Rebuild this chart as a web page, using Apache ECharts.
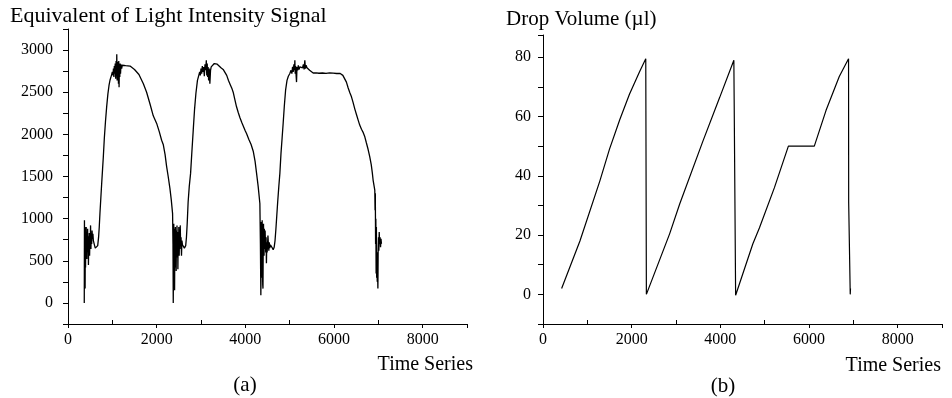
<!DOCTYPE html>
<html>
<head>
<meta charset="utf-8">
<script src="https://cdn.jsdelivr.net/npm/echarts@6/dist/echarts.min.js"></script>
<style>
  html, body { margin: 0; padding: 0; background: #fff; }
  #chart { width: 952px; height: 398px; }
</style>
</head>
<body>
<div id="chart"></div>
<script>
// (a) light intensity signal
var signalX = [367, 371, 376, 381, 386, 391, 396, 401, 406, 411, 416, 421, 426, 431, 437, 443, 449, 455, 461, 467,
  473, 480, 487, 494, 501, 509, 517, 525, 534, 543, 552, 562, 572, 585, 600, 615, 630, 647, 670, 690,
  705, 721, 740, 760, 780, 797, 820, 845, 872, 900, 925, 947, 980, 1000, 1015, 1025, 1035, 1045, 1055, 1065,
  1075, 1085, 1095, 1100, 1108, 1115, 1122, 1130, 1138, 1145, 1152, 1160, 1168, 1176, 1185, 1195, 1210, 1225, 1245, 1270,
  1300, 1340, 1400, 1500, 1600, 1700, 1773, 1850, 1923, 2000, 2060, 2112, 2148, 2190, 2224, 2260, 2299, 2330, 2359,
  2368, 2374, 2380, 2386, 2392, 2398, 2404, 2410, 2416, 2422, 2428, 2434, 2440, 2446, 2452, 2458, 2465, 2472, 2479, 2486,
  2493, 2500, 2508, 2516, 2524, 2532, 2540, 2550, 2560, 2570, 2582, 2596, 2610, 2625, 2637, 2655, 2672, 2689, 2710, 2735,
  2765, 2795, 2825, 2855, 2885, 2920, 2950, 2970, 2985, 3000, 3015, 3030, 3045, 3060, 3075, 3090, 3105, 3120, 3130, 3140,
  3150, 3160, 3172, 3185, 3200, 3215, 3230, 3250, 3270, 3300, 3330, 3366, 3400, 3450, 3500, 3539, 3580, 3620, 3660, 3700,
  3726, 3760, 3800, 3840, 3877, 3920, 3960, 4000, 4027, 4080, 4130, 4178, 4220, 4253, 4290, 4328, 4340,
  4350, 4356, 4362, 4368, 4374, 4380, 4386, 4392, 4398, 4404, 4410, 4416, 4422, 4428, 4434, 4440, 4446, 4452, 4460, 4468,
  4476, 4484, 4492, 4500, 4510, 4520, 4530, 4540, 4552, 4565, 4580, 4600, 4628, 4650, 4670, 4690, 4703, 4730, 4755, 4779,
  4805, 4830, 4853, 4880, 4908, 4940, 4970, 5004, 5030, 5050, 5065, 5080, 5095, 5110, 5117, 5125, 5135, 5145, 5155, 5165,
  5180, 5195, 5210, 5230, 5250, 5270, 5290, 5310, 5325, 5342, 5355, 5370, 5390, 5417, 5450, 5490, 5530, 5567, 5600, 5630,
  5660, 5700, 5740, 5780, 5820, 5860, 5900, 5940, 5980, 6020, 6060, 6100, 6140, 6169, 6200, 6243, 6280, 6320, 6360, 6394,
  6430, 6470, 6510, 6545, 6580, 6620, 6660, 6695, 6730, 6770, 6807, 6840, 6865, 6882, 6900, 6920, 6926, 6932, 6938, 6944,
  6950, 6956, 6962, 6968, 6975, 6982, 6990, 6996, 7004, 7012, 7020, 7030, 7040, 7050, 7060, 7070];
var signalY = [0, 980, 260, 900, 170, 860, 420, 800, 560, 900, 640, 820, 520, 760, 660, 880, 600, 790, 450, 720,
  640, 830, 560, 760, 690, 920, 640, 800, 700, 860, 760, 820, 740, 720, 680, 650, 640, 630, 680, 780,
  900, 1066, 1240, 1420, 1590, 1734, 1960, 2150, 2326, 2480, 2580, 2642, 2700, 2740, 2700, 2780, 2680, 2810, 2720, 2840,
  2660, 2870, 2720, 2950, 2640, 2860, 2700, 2830, 2600, 2870, 2560, 2810, 2680, 2840, 2720, 2830, 2780, 2820, 2800, 2820,
  2815, 2815, 2810, 2770, 2710, 2600, 2500, 2360, 2220, 2130, 2030, 1930, 1880, 1760, 1620, 1500, 1360, 1220, 1060,
  700, 0, 520, 940, 300, 880, 150, 760, 420, 900, 560, 860, 380, 800, 620, 920, 540, 760, 400, 840,
  600, 900, 560, 820, 640, 920, 700, 780, 560, 740, 690, 700, 670, 650, 640, 680, 780, 944, 1200, 1380,
  1537, 1800, 2050, 2300, 2485, 2640, 2700, 2740, 2700, 2780, 2720, 2810, 2740, 2800, 2690, 2830, 2760, 2880, 2700, 2840,
  2680, 2800, 2640, 2780, 2600, 2760, 2800, 2780, 2820, 2840, 2830, 2832, 2810, 2790, 2770, 2750, 2700, 2640, 2590, 2540,
  2500, 2420, 2330, 2260, 2200, 2140, 2090, 2040, 2010, 1940, 1880, 1800, 1680, 1540, 1380, 1180, 700,
  90, 480, 960, 300, 900, 980, 500, 220, 170, 700, 940, 620, 560, 880, 700, 640, 860, 740, 600, 780,
  470, 720, 600, 680, 800, 700, 620, 720, 650, 690, 700, 660, 630, 660, 740, 880, 983, 1200, 1380, 1537,
  1780, 1960, 2129, 2340, 2524, 2640, 2690, 2722, 2760, 2720, 2800, 2740, 2830, 2760, 2880, 2720, 2810, 2700, 2620, 2800,
  2760, 2820, 2770, 2800, 2780, 2820, 2790, 2830, 2770, 2880, 2780, 2820, 2790, 2781, 2760, 2740, 2728, 2722, 2730, 2715,
  2725, 2720, 2728, 2716, 2724, 2720, 2730, 2718, 2726, 2720, 2722, 2720, 2722, 2720, 2700, 2682, 2620, 2550, 2490, 2445,
  2380, 2300, 2230, 2169, 2110, 2060, 2020, 1971, 1900, 1820, 1734, 1640, 1540, 1458, 1400, 1339, 1100, 1300, 700, 1000,
  350, 900, 300, 600, 250, 400, 170, 600, 780, 620, 840, 700, 780, 660, 760, 700];

// (b) drop volume
var volumeX = [420, 833, 1283, 1500, 1733, 1950, 2183, 2318, 2332, 2347, 2858, 3083, 3607, 3982, 4305, 4312, 4335, 4345,
  4732, 4883, 5220, 5535, 6120, 6383, 6683, 6892, 6895, 6926, 6930, 6936];
var volumeY = [2, 18, 38.3, 49, 59, 67.5, 75.3, 79.5, 0, -0.5, 20.5, 30.5, 51.7, 66.3, 79, 65.7, 65.7, -0.3,
  17, 22.5, 36, 50, 50, 62, 73.5, 79.5, 31, 30.5, 0, 2];

var titles = ['Equivalent of Light Intensity Signal', 'Drop Volume (\u00b5l)'];
var xName = 'Time Series';
var panelTags = ['(a)', '(b)'];
var minorX = [1000, 3000, 5000, 7000];

function pairs(xs, ys) {
  return xs.map(function (x, i) { return [x, ys[i]]; });
}

var FONT = 'Liberation Serif';
var black = '#000';
var lbl = { color: black, fontFamily: FONT, fontSize: 16 };

function mainX(gi) {
  return {
    type: 'value', gridIndex: gi, min: 0, max: 9000, interval: 2000,
    axisLine: { onZero: false, lineStyle: { color: black, width: 1 } },
    axisTick: { length: 4, lineStyle: { color: black } },
    splitLine: { show: false },
    axisLabel: Object.assign({ margin: 8, formatter: function (v) { return v % 2000 === 0 ? v : ''; } }, lbl)
  };
}
function minorAxisX(gi) {
  return {
    type: 'value', gridIndex: gi, min: 0, max: 9000, position: 'bottom',
    axisLine: { show: false, onZero: false },
    axisTick: { inside: true, length: 4, customValues: minorX, lineStyle: { color: black } },
    axisLabel: { show: false },
    splitLine: { show: false }
  };
}
function yAxisOf(gi, min, max, step, labelStep, margin) {
  return {
    type: 'value', gridIndex: gi, min: min, max: max, interval: step,
    axisLine: { show: true, onZero: false, lineStyle: { color: black, width: 1 } },
    axisTick: { show: true, length: 5, lineStyle: { color: black } },
    splitLine: { show: false },
    axisLabel: Object.assign({
      margin: margin,
      formatter: function (v) { return (v >= 0 && v % labelStep === 0) ? v : ''; }
    }, lbl)
  };
}

function txt(x, y, s, align, size) {
  return {
    type: 'text', x: x, y: y, silent: true,
    style: { text: s, fill: black, font: (size || 21) + 'px "' + FONT + '"', textAlign: align || 'left', textVerticalAlign: 'middle' }
  };
}

var option = {
  animation: false,
  backgroundColor: '#fff',
  grid: [
    { left: 68, top: 29, width: 399, height: 295 },
    { left: 543, top: 35, width: 399, height: 289 }
  ],
  xAxis: [mainX(0), mainX(1), minorAxisX(0), minorAxisX(1)],
  yAxis: [
    yAxisOf(0, -250, 3250, 250, 500, 15),
    yAxisOf(1, -10, 87.5, 10, 20, 12)
  ],
  series: [
    {
      type: 'line', xAxisIndex: 0, yAxisIndex: 0, data: pairs(signalX, signalY),
      showSymbol: false, sampling: null, lineStyle: { color: black, width: 1.3 }
    },
    {
      type: 'line', xAxisIndex: 1, yAxisIndex: 1, data: pairs(volumeX, volumeY),
      showSymbol: false, lineStyle: { color: black, width: 1.2 }
    }
  ],
  graphic: [
    txt(10, 16, titles[0], 'left', 22),
    txt(506, 19, titles[1]),
    txt(473, 365, xName, 'right', 20),
    txt(941, 366, xName, 'right', 20),
    txt(245, 385, panelTags[0], 'center'),
    txt(723, 386, panelTags[1], 'center')
  ]
};

var myChart = echarts.init(document.getElementById('chart'));
myChart.setOption(option);
</script>
</body>
</html>
